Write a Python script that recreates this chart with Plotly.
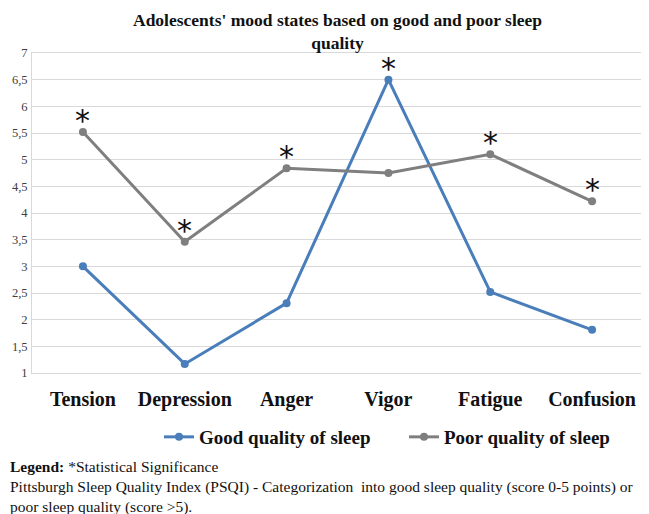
import plotly.graph_objects as go

categories = ["Tension", "Depression", "Anger", "Vigor", "Fatigue", "Confusion"]
good_sleep = [3.0, 1.17, 2.31, 6.5, 2.52, 1.81]
poor_sleep = [5.52, 3.46, 4.84, 4.75, 5.1, 4.22]
significant_series = ["poor", "poor", "poor", "good", "poor", "poor"]
y_ticks = [1, 1.5, 2, 2.5, 3, 3.5, 4, 4.5, 5, 5.5, 6, 6.5, 7]

SERIF = "Liberation Serif"
BLUE = "#4a7ebb"
GRAY = "#7f7f7f"

PLOT_H = 320
PLOT_W = 611
L, R, T, B = 24, 6, 45, 141

fig = go.Figure()
fig.add_trace(go.Scatter(
    x=categories, y=good_sleep, name="Good quality of sleep",
    mode="lines+markers", line=dict(color=BLUE, width=3),
    marker=dict(color=BLUE, size=8)))
fig.add_trace(go.Scatter(
    x=categories, y=poor_sleep, name="Poor quality of sleep",
    mode="lines+markers", line=dict(color=GRAY, width=3),
    marker=dict(color=GRAY, size=8)))

annotations = []
for cat, which, g, p in zip(categories, significant_series, good_sleep, poor_sleep):
    yv = g if which == "good" else p
    annotations.append(dict(
        x=cat, y=yv, xref="x", yref="y", text="*", showarrow=False,
        yanchor="bottom", yshift=-8,
        font=dict(family="DejaVu Sans", size=30, color="#111111")))

annotations.append(dict(
    xref="paper", yref="paper", x=-L / PLOT_W, y=-(448 - 365) / PLOT_H,
    xanchor="left", yanchor="top", align="left", showarrow=False,
    text=("<b>Legend:</b> *Statistical Significance<br>"
          "Pittsburgh Sleep Quality Index (PSQI) - Categorization  into good sleep quality (score 0-5 points) or<br>"
          "poor sleep quality (score >5)."),
    font=dict(family=SERIF, size=15.5, color="#111111")))

annotations.append(dict(
    xref="paper", yref="paper", x=0.5, y=1 + T / PLOT_H,
    xanchor="center", yanchor="top", align="center", showarrow=False,
    text="<b>Adolescents' mood states based on good and poor sleep<br>quality</b>",
    font=dict(family=SERIF, size=17.5, color="#111111")))

fig.update_layout(
    width=641, height=506,
    margin=dict(l=L, r=R, t=T, b=B, autoexpand=False),
    paper_bgcolor="white", plot_bgcolor="white",
    separators=", ",
    font=dict(family=SERIF, color="#111111"),
    showlegend=True,
    legend=dict(
        orientation="h", x=(151 - L) / PLOT_W, xanchor="left", y=-64 / PLOT_H, yanchor="middle",
        font=dict(family=SERIF, size=19, color="#111111", weight="bold"),
        itemwidth=30, entrywidth=200, bgcolor="rgba(0,0,0,0)"),
    annotations=annotations,
)
fig.update_xaxes(
    showgrid=False, showline=True, linecolor="#d9d9d9", linewidth=1, mirror=True,
    ticks="", ticklabelstandoff=8,
    tickfont=dict(family=SERIF, size=20, color="#111111", weight="bold"),
    range=[-0.5, 5.5])
fig.update_yaxes(
    range=[1, 7], tickvals=y_ticks, showgrid=True, gridcolor="#d9d9d9", gridwidth=1,
    showline=True, linecolor="#d9d9d9", linewidth=1, mirror=True, zeroline=False,
    ticks="", ticklabelstandoff=1,
    tickfont=dict(family=SERIF, size=12.5, color="#404040"))

fig.write_html("out.html")
